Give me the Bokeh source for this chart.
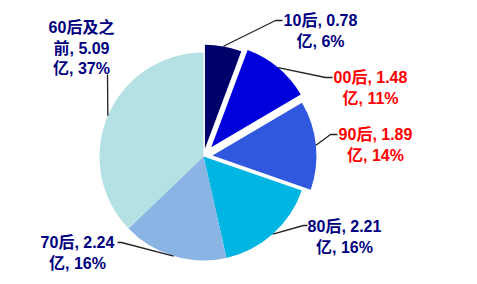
import math
from bokeh.plotting import figure
from bokeh.models import ColumnDataSource, Range1d
from bokeh.embed import file_html
from bokeh.resources import INLINE
from bokeh.core.properties import value

# ---- data ----
CATEGORIES = ["10后", "00后", "90后", "80后", "70后", "60后及之前"]
VALUES = [0.78, 1.48, 1.89, 2.21, 2.24, 5.09]
PERCENTS = [6, 11, 14, 16, 16, 37]
LABEL_LINES = [
    ["10后, 0.78", "亿, 6%"],
    ["00后, 1.48", "亿, 11%"],
    ["90后, 1.89", "亿, 14%"],
    ["80后, 2.21", "亿, 16%"],
    ["70后, 2.24", "亿, 16%"],
    ["60后及之", "前, 5.09", "亿, 37%"],
]

# ---- style / layout ----
W, H = 477, 284
COLORS = ["#00006A", "#0000DD", "#3058DE", "#00B5E2", "#8AB4E4", "#B4E1E4"]
EXPLODE = [8, 12, 9, 0, 0, 0]
LABEL_COLORS = ["#000080", "#FF0000", "#FF0000", "#000080", "#000080", "#000080"]
CX, CY_IMG, R = 203, 156, 104
# label anchor (centre x, first baseline y in image px), line height
LABEL_POS = [(320, 20), (370, 77), (375, 134), (344, 226), (77, 242), (81, 27)]
LINE_H = 20.5
# leader elbow points (image px)
ELBOWS = [
    [(275, 20), (282, 20)],
    [(325, 77), (332, 77)],
    [(330, 134), (337, 134)],
    [(303, 225), (307, 225)],
    [(121, 242), (117, 242)],
    [(107, 74)],
]
FONT = "Liberation Sans, Arial, Noto Sans CJK SC"

def fy(y_img):
    return H - y_img

p = figure(width=W, height=H, x_range=Range1d(0, W), y_range=Range1d(0, H),
           output_backend="svg", toolbar_location=None,
           x_axis_location=None, y_axis_location=None, min_border=0)
p.grid.visible = False
p.outline_line_color = None
p.background_fill_color = "white"
p.border_fill_color = "white"

total = sum(VALUES)
cum = 0.0
xs, ys, starts, ends, mids = [], [], [], [], []
for v, d in zip(VALUES, EXPLODE):
    a0 = cum / total * 2 * math.pi
    cum += v
    a1 = cum / total * 2 * math.pi
    am = (a0 + a1) / 2
    mids.append(am)
    xs.append(CX + d * math.sin(am))
    ys.append(fy(CY_IMG) + d * math.cos(am))
    starts.append(math.pi / 2 - a0)
    ends.append(math.pi / 2 - a1)

src = ColumnDataSource(dict(x=xs, y=ys, start=starts, end=ends, color=COLORS, cat=CATEGORIES))
p.wedge(x="x", y="y", radius=R, start_angle="start", end_angle="end", direction="clock",
        fill_color="color", line_color=None, source=src)

# leader lines
lx, ly = [], []
for i, am in enumerate(mids):
    sx = xs[i] + R * math.sin(am)
    sy = ys[i] + R * math.cos(am)
    px = [sx] + [e[0] for e in ELBOWS[i]]
    py = [sy] + [fy(e[1]) for e in ELBOWS[i]]
    lx.append(px)
    ly.append(py)
p.multi_line(xs=lx, ys=ly, line_color="#222222", line_width=1.3)

# labels
tx, ty, tt, tc = [], [], [], []
for i, lines in enumerate(LABEL_LINES):
    x0, y0 = LABEL_POS[i]
    for j, t in enumerate(lines):
        tx.append(x0)
        ty.append(fy(y0 + j * LINE_H))
        tt.append(t)
        tc.append(LABEL_COLORS[i])
p.text(x=tx, y=ty, text=tt, text_color=tc, text_font=value(FONT), text_font_size="16px",
       text_font_style="bold", text_align="center", text_baseline="alphabetic")

open("out.html", "w").write(file_html(p, INLINE))
